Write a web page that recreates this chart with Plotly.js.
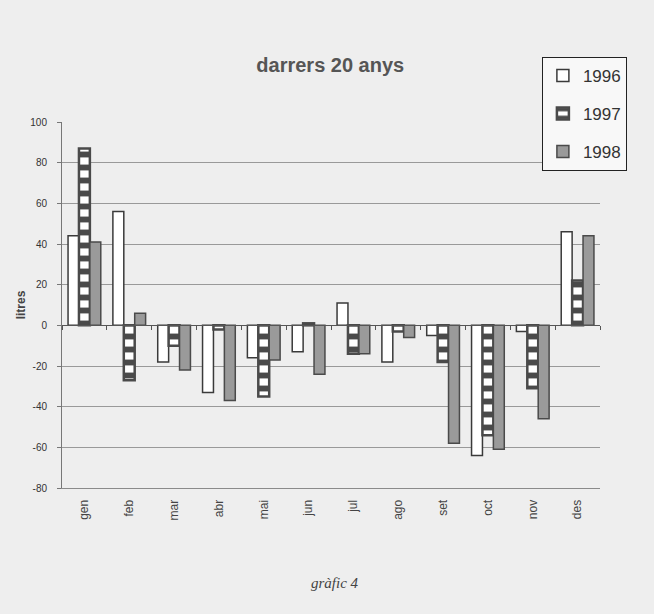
<!DOCTYPE html>
<html>
<head>
<meta charset="utf-8">
<script src="https://cdn.plot.ly/plotly-3.0.1.min.js"></script>
<style>
  html, body { margin: 0; padding: 0; background: #eeeeee; }
  #chart { width: 654px; height: 614px; }
</style>
</head>
<body>
<div id="chart"></div>
<script>
const months = ["gen", "feb", "mar", "abr", "mai", "jun", "jul", "ago", "set", "oct", "nov", "des"];
const series1996 = [44, 56, -18, -33, -16, -13, 11, -18, -5, -64, -3, 46];
const series1997 = [87, -27, -10, -2, -35, 1, -14, -3, -18, -54, -31, 22];
const series1998 = [41, 6, -22, -37, -17, -24, -14, -6, -58, -61, -46, 44];
const yTicks = [-80, -60, -40, -20, 0, 20, 40, 60, 80, 100];
const yTickText = ["-80", "-60", "-40", "-20", "0", "20", "40", "60", "80", "100"];
const zeroLine = [0, 0, 0, 0, 0, 0, 0, 0, 0, 0, 0, 0];

const sans = "Liberation Sans, Arial, sans-serif";
const edge = "#3a3a3a";

const traces = [
  {
    type: "bar", name: "1996", x: months, y: series1996,
    legendgroup: "a",
    marker: { color: "#ffffff", line: { color: edge, width: 1.5 } },
    hoverinfo: "skip"
  },
  {
    type: "bar", name: "1997", x: months, y: series1997,
    legendgroup: "b",
    marker: {
      color: "#ffffff",
      line: { color: "#4a4a4a", width: 2.5 },
      pattern: { shape: "-", fgcolor: "#4a4a4a", bgcolor: "#ffffff", size: 13, solidity: 0.45 }
    },
    hoverinfo: "skip"
  },
  {
    type: "bar", name: "1998", x: months, y: series1998,
    legendgroup: "c",
    marker: { color: "#9a9a9a", line: { color: "#4a4a4a", width: 1.5 } },
    hoverinfo: "skip"
  },
  {
    type: "scatter", mode: "lines", x: months, y: zeroLine,
    xaxis: "x2", yaxis: "y", opacity: 0, showlegend: false, hoverinfo: "skip"
  }
];

const layout = {
  width: 654, height: 614,
  margin: { l: 62, r: 54, t: 122, b: 126 },
  paper_bgcolor: "#eeeeee",
  plot_bgcolor: "#eeeeee",
  barmode: "group",
  bargap: 0.27,
  bargroupgap: 0,
  showlegend: true,
  title: {
    text: "<b>darrers 20 anys</b>",
    font: { family: sans, size: 20, color: "#555555" },
    x: 0.505, xanchor: "center",
    y: 0.894, yanchor: "middle", yref: "container"
  },
  legend: {
    x: 0.892, xanchor: "left",
    y: 1.178, yanchor: "top",
    bgcolor: "#f8f8f8",
    bordercolor: "#222222", borderwidth: 1,
    font: { family: sans, size: 17, color: "#333333" },
    traceorder: "grouped",
    tracegroupgap: 13,
    itemwidth: 30
  },
  xaxis: {
    type: "category",
    categoryorder: "array", categoryarray: months,
    range: [-0.5, 11.5],
    showline: true, linecolor: "#8a8a8a", linewidth: 1,
    ticks: "", showgrid: false, zeroline: false,
    tickangle: -90,
    ticklabelstandoff: 6,
    tickfont: { family: sans, size: 12, color: "#444444" }
  },
  xaxis2: {
    type: "category",
    categoryorder: "array", categoryarray: months,
    range: [-0.5, 11.5],
    overlaying: "x", anchor: "free", position: 80 / 180,
    showline: true, linecolor: "#555555", linewidth: 1,
    tickson: "boundaries", ticks: "outside", ticklen: 4, tickcolor: "#555555",
    showticklabels: false, showgrid: false, zeroline: false
  },
  yaxis: {
    range: [-80, 100],
    tickvals: yTicks,
    ticktext: yTickText,
    showline: true, linecolor: "#777777", linewidth: 1,
    ticks: "outside", ticklen: 4, tickcolor: "#777777",
    ticklabelstandoff: 8,
    showgrid: true, gridcolor: "#999999", gridwidth: 1,
    zeroline: false,
    tickfont: { family: sans, size: 10, color: "#333333" },
    title: {
      text: "<b>litres</b>",
      font: { family: sans, size: 12, color: "#444444" },
      standoff: 2
    }
  },
  annotations: [
    {
      text: "<i>gràfic 4</i>",
      xref: "paper", yref: "paper",
      x: 0.507, y: -0.26, xanchor: "center", yanchor: "middle",
      showarrow: false,
      font: { family: "Liberation Serif, DejaVu Serif, serif", size: 15, color: "#444444" }
    }
  ]
};

Plotly.newPlot("chart", traces, layout, { displayModeBar: false, staticPlot: true });
</script>
</body>
</html>
